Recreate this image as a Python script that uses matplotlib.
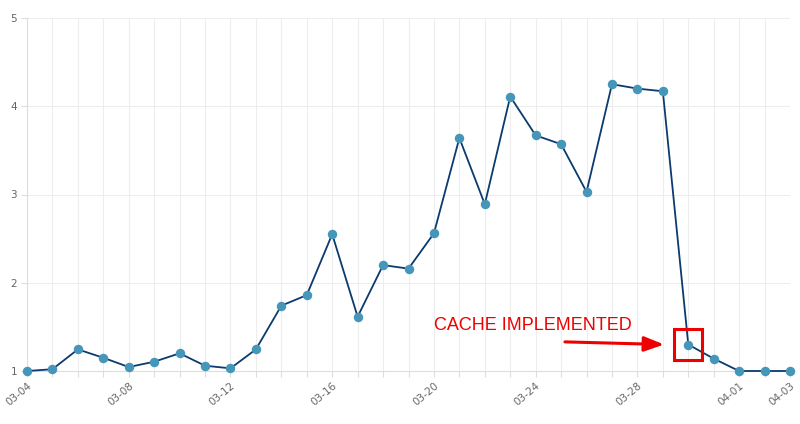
import matplotlib
matplotlib.use("Agg")
import matplotlib.pyplot as plt
import matplotlib.patches as mpatches

dates = ["03-04", "03-05", "03-06", "03-07", "03-08", "03-09", "03-10", "03-11",
         "03-12", "03-13", "03-14", "03-15", "03-16", "03-17", "03-18", "03-19",
         "03-20", "03-21", "03-22", "03-23", "03-24", "03-25", "03-26", "03-27",
         "03-28", "03-29", "03-30", "03-31", "04-01", "04-02", "04-03"]
values = [1.00, 1.02, 1.245, 1.15, 1.045, 1.105, 1.20, 1.06,
          1.03, 1.245, 1.74, 1.86, 2.55, 1.615, 2.20, 2.16,
          2.56, 3.64, 2.89, 4.11, 3.67, 3.57, 3.03, 4.25,
          4.20, 4.17, 1.30, 1.14, 1.00, 1.00, 1.00]
label_dates = ["03-04", "03-08", "03-12", "03-16", "03-20", "03-24", "03-28", "04-01", "04-03"]
y_ticks = [1, 2, 3, 4, 5]
annotation_text = "CACHE IMPLEMENTED"
annotated_date = "03-30"

fig = plt.figure(figsize=(8, 4.24), dpi=100)
ax = fig.add_axes([27/800, 1-371/424, (790-27)/800, (371-18)/424])

x = list(range(len(dates)))
ax.plot(x, values, color="#0b3a6e", linewidth=1.3, zorder=3, clip_on=False)
ax.plot(x, values, linestyle="none", marker="o", markersize=5.8,
        markerfacecolor="#4596b8", markeredgecolor="#4596b8", zorder=4, clip_on=False)

ax.set_xlim(0, len(dates) - 1)
ax.set_ylim(1, 5)

ax.set_xticks(x)
ax.set_xticklabels([d if d in label_dates else "" for d in dates],
                   rotation=40, ha="right", rotation_mode="anchor",
                   fontsize=7.5, color="#666666")
ax.set_yticks(y_ticks)
ax.set_yticklabels([str(v) for v in y_ticks], fontsize=7.5, color="#666666")

ax.grid(True, color="#ededed", linewidth=0.8, zorder=0)
ax.tick_params(axis="x", length=4, color="#dddddd", pad=3)
ax.tick_params(axis="y", length=4, color="#dddddd", pad=3)
for side in ["top", "right"]:
    ax.spines[side].set_visible(False)
ax.spines["left"].set_color("#dddddd")
ax.spines["bottom"].set_color("#dddddd")
ax.spines["left"].set_linewidth(0.8)
ax.spines["bottom"].set_linewidth(0.8)

# annotation
idx = dates.index(annotated_date)
yv = values[idx]
ax.add_patch(mpatches.Rectangle((idx - 0.58, yv - 0.17), 1.12, 0.35,
                                fill=False, edgecolor="#ee0000", linewidth=2.2,
                                zorder=5, clip_on=False))
ax.annotate("", xy=(idx - 0.95, yv), xytext=(idx - 4.85, yv + 0.03),
            arrowprops=dict(arrowstyle="-|>,head_length=1.2,head_width=0.45",
                            color="#ee0000", linewidth=2.2, shrinkA=0, shrinkB=0),
            zorder=5)
ax.text(idx - 10.0, yv + 0.21, annotation_text, color="#ee0000", fontsize=13,
        ha="left", va="center", family="Liberation Sans")

fig.savefig("out.png", dpi=100)
